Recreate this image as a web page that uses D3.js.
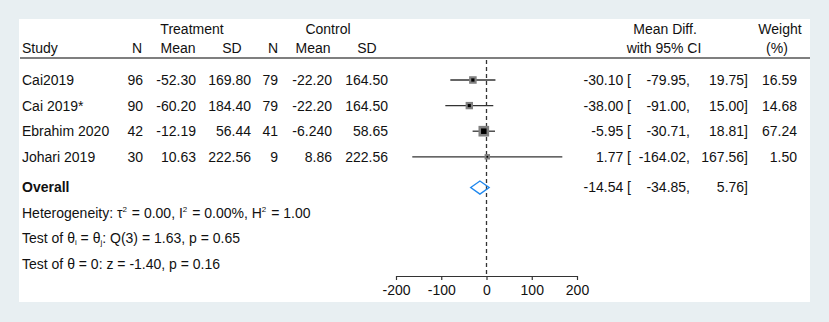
<!DOCTYPE html>
<html>
<head>
<meta charset="utf-8">
<script src="https://cdn.jsdelivr.net/npm/d3@7"></script>
<style>
  body { margin: 0; background: #e8eff2; }
  text { font-family: "Liberation Sans", Arial, sans-serif; font-size: 14px; fill: #111; }
</style>
</head>
<body>
<div id="chart"></div>
<script>
// Study table data
const studies = ["Cai2019", "Cai 2019*", "Ebrahim 2020", "Johari 2019"];
const trtN = ["96", "90", "42", "30"];
const trtMean = ["-52.30", "-60.20", "-12.19", "10.63"];
const trtSD = ["169.80", "184.40", "56.44", "222.56"];
const ctrlN = ["79", "79", "41", "9"];
const ctrlMean = ["-22.20", "-22.20", "-6.240", "8.86"];
const ctrlSD = ["164.50", "164.50", "58.65", "222.56"];

// Effect sizes (mean diff, 95% CI) and weights
const est = [-30.10, -38.00, -5.95, 1.77];
const lo = [-79.95, -91.00, -30.71, -164.02];
const hi = [19.75, 15.00, 18.81, 167.56];
const weight = [16.59, 14.68, 67.24, 1.50];

// Overall
const overall = { est: -14.54, lo: -34.85, hi: 5.76 };
const axisTicks = [-200, -100, 0, 100, 200];

const width = 829, height = 322;
const fmt = v => v.toFixed(2);  // plain hyphen minus, like the original

const svg = d3.select('#chart').append('svg')
    .attr('width', width)
    .attr('height', height);

// outer background and white panel
svg.append('rect').attr('width', width).attr('height', height).attr('fill', '#e8eff2');
svg.append('rect').attr('x', 19).attr('y', 19).attr('width', 791).attr('height', 283).attr('fill', '#ffffff');

const x = d3.scaleLinear().domain([-200, 200]).range([396, 577]);
const rowY = d3.scaleLinear().domain([0, 1]).range([80, 105.6]);
const boxSize = d3.scaleSqrt().domain([0, 100]).range([4.5, 12]);
const dotSize = d3.scaleSqrt().domain([0, 100]).range([1, 6.5]);

// column headers
const cols = [
    { name: "N", data: trtN, right: 143, center: 137 },
    { name: "Mean", data: trtMean, right: 196, center: 178 },
    { name: "SD", data: trtSD, right: 251, center: 232 },
    { name: "N", data: ctrlN, right: 278, center: 273 },
    { name: "Mean", data: ctrlMean, right: 332, center: 313 },
    { name: "SD", data: ctrlSD, right: 388, center: 367 }
];

const header = svg.append('g');
header.append('text').attr('x', 192).attr('y', 29).attr('dy', '0.35em').attr('text-anchor', 'middle').text('Treatment');
header.append('text').attr('x', 328).attr('y', 29).attr('dy', '0.35em').attr('text-anchor', 'middle').text('Control');
header.append('text').attr('x', 22).attr('y', 48).attr('dy', '0.35em').text('Study');
header.selectAll('.colhead')
    .data(cols)
    .enter().append('text')
    .attr('x', d => d.center)
    .attr('y', 48)
    .attr('dy', '0.35em')
    .attr('text-anchor', 'middle')
    .text(d => d.name);
header.append('text').attr('x', 665).attr('y', 29).attr('dy', '0.35em').attr('text-anchor', 'middle').text('Mean Diff.');
header.append('text').attr('x', 664).attr('y', 48).attr('dy', '0.35em').attr('text-anchor', 'middle').text('with 95% CI');
header.append('text').attr('x', 780).attr('y', 29).attr('dy', '0.35em').attr('text-anchor', 'middle').text('Weight');
header.append('text').attr('x', 777).attr('y', 48).attr('dy', '0.35em').attr('text-anchor', 'middle').text('(%)');

svg.append('line')
    .attr('x1', 20).attr('x2', 810).attr('y1', 58).attr('y2', 58)
    .attr('stroke', '#555').attr('stroke-width', 1.5);

// study rows
const rows = svg.append('g');
studies.forEach((s, i) => {
    const y = rowY(i);
    rows.append('text').attr('x', 22).attr('y', y).attr('dy', '0.35em').text(s);
    cols.forEach(c => {
        rows.append('text').attr('x', c.right).attr('y', y).attr('dy', '0.35em')
            .attr('text-anchor', 'end').text(c.data[i]);
    });
    rows.append('text').attr('x', 631).attr('y', y).attr('dy', '0.35em').attr('text-anchor', 'end').text(fmt(est[i]) + ' [');
    rows.append('text').attr('x', 690).attr('y', y).attr('dy', '0.35em').attr('text-anchor', 'end').text(fmt(lo[i]) + ',');
    rows.append('text').attr('x', 748).attr('y', y).attr('dy', '0.35em').attr('text-anchor', 'end').text(fmt(hi[i]) + ']');
    rows.append('text').attr('x', 797).attr('y', y).attr('dy', '0.35em').attr('text-anchor', 'end').text(fmt(weight[i]));
});

// overall row
const yo = rowY(4.2);
svg.append('text').attr('x', 22).attr('y', yo).attr('dy', '0.35em').attr('font-weight', 'bold').text('Overall');
svg.append('text').attr('x', 631).attr('y', yo).attr('dy', '0.35em').attr('text-anchor', 'end').text(fmt(overall.est) + ' [');
svg.append('text').attr('x', 690).attr('y', yo).attr('dy', '0.35em').attr('text-anchor', 'end').text(fmt(overall.lo) + ',');
svg.append('text').attr('x', 748).attr('y', yo).attr('dy', '0.35em').attr('text-anchor', 'end').text(fmt(overall.hi) + ']');

// heterogeneity and tests (superscripts / subscripts with pixel offsets)
function sup(t, s) {
    t.append('tspan').attr('font-size', '8px').attr('dy', -6).text(s);
}
function back(t, s) {
    t.append('tspan').attr('dy', 6).attr('dx', 1).text(s);
}
const het = svg.append('text').attr('x', 22).attr('y', rowY(5.2) + 5);
het.append('tspan').text('Heterogeneity: τ');
sup(het, '2'); back(het, ' = 0.00, I');
sup(het, '2'); back(het, ' = 0.00%, H');
sup(het, '2'); back(het, ' = 1.00');

const t1 = svg.append('text').attr('x', 22).attr('y', rowY(6.17) + 5);
t1.append('tspan').text('Test of θ');
t1.append('tspan').attr('font-size', '8px').attr('dy', 2).text('i');
t1.append('tspan').attr('dy', -2).text(' = θ');
t1.append('tspan').attr('font-size', '8px').attr('dy', 2).text('j');
t1.append('tspan').attr('dy', -2).text(': Q(3) = 1.63, p = 0.65');

svg.append('text').attr('x', 22).attr('y', rowY(7.18)).attr('dy', '0.35em').text('Test of θ = 0: z = -1.40, p = 0.16');

// plot: reference line at zero
svg.append('line')
    .attr('x1', x(0)).attr('x2', x(0))
    .attr('y1', 60).attr('y2', 276)
    .attr('stroke', '#333').attr('stroke-width', 1.3)
    .attr('stroke-dasharray', '4,3');

// CIs
const plot = svg.append('g');
plot.selectAll('.ci')
    .data(studies)
    .enter().append('line')
    .attr('x1', (d, i) => x(lo[i]))
    .attr('x2', (d, i) => x(hi[i]))
    .attr('y1', (d, i) => rowY(i))
    .attr('y2', (d, i) => rowY(i))
    .attr('stroke', '#333').attr('stroke-width', 1.3);

plot.selectAll('.box')
    .data(studies)
    .enter().append('rect')
    .attr('x', (d, i) => x(est[i]) - boxSize(weight[i]) / 2)
    .attr('y', (d, i) => rowY(i) - boxSize(weight[i]) / 2)
    .attr('width', (d, i) => boxSize(weight[i]))
    .attr('height', (d, i) => boxSize(weight[i]))
    .attr('fill', '#808080');

plot.selectAll('.dot')
    .data(studies)
    .enter().append('rect')
    .attr('x', (d, i) => x(est[i]) - dotSize(weight[i]) / 2)
    .attr('y', (d, i) => rowY(i) - dotSize(weight[i]) / 2)
    .attr('width', (d, i) => dotSize(weight[i]))
    .attr('height', (d, i) => dotSize(weight[i]))
    .attr('fill', '#000');

// overall diamond
const dh = 6.5;
plot.append('path')
    .attr('d', `M${x(overall.lo)},${yo} L${x(overall.est)},${yo - dh} L${x(overall.hi)},${yo} L${x(overall.est)},${yo + dh} Z`)
    .attr('fill', 'none')
    .attr('stroke', '#1f88ee')
    .attr('stroke-width', 1.4);

// x axis
const axis = svg.append('g')
    .attr('transform', 'translate(0,276)')
    .call(d3.axisBottom(x).tickValues(axisTicks).tickFormat(d => String(d))
        .tickSize(4).tickSizeOuter(0).tickPadding(5));
axis.select('.domain').attr('stroke', '#333').attr('stroke-width', 1.2);
axis.selectAll('.tick line').attr('stroke', '#333').attr('stroke-width', 1.2);
axis.selectAll('.tick text')
    .style('font-family', '"Liberation Sans", Arial, sans-serif')
    .style('font-size', '14px')
    .attr('fill', '#111');
</script>
</body>
</html>
